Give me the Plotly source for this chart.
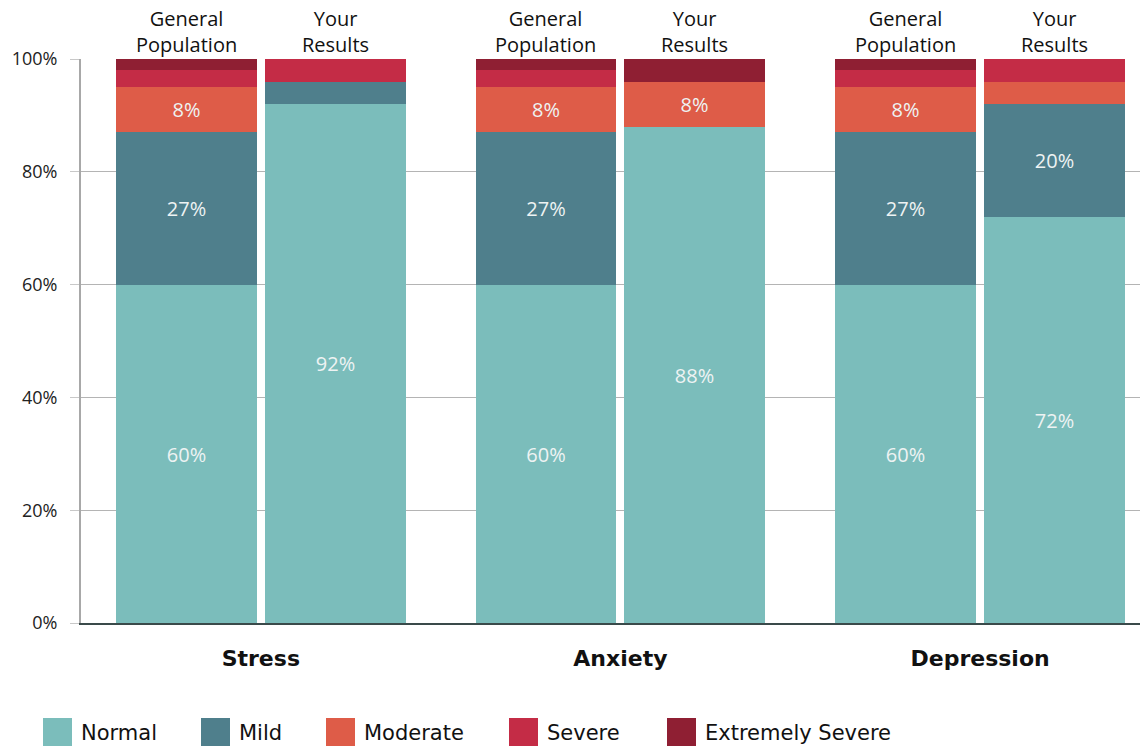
import plotly.graph_objects as go

# ---- data ----
groups = ["Stress", "Anxiety", "Depression"]
subgroups = ["General<br>Population", "Your<br>Results"]
levels = ["Normal", "Mild", "Moderate", "Severe", "Extremely Severe"]
colors = ["#7bbdbb", "#4f7f8c", "#de5c48", "#c42c46", "#8f1f33"]

# values per bar, order: Stress GP, Stress YR, Anxiety GP, Anxiety YR, Depression GP, Depression YR
normal = [60, 92, 60, 88, 60, 72]
mild = [27, 4, 27, 0, 27, 20]
moderate = [8, 0, 8, 8, 8, 4]
severe = [3, 4, 3, 0, 3, 4]
extremely_severe = [2, 0, 2, 4, 2, 0]
series = [normal, mild, moderate, severe, extremely_severe]

y_ticks = [0, 20, 40, 60, 80, 100]
label_min = 8  # segments at least this big get a value label

# ---- layout geometry (page body has an 8px margin) ----
BODY = 8
W, H = 1148 - BODY, 746 - BODY
ML, MT = 81 - BODY, 59 - BODY
MR = 0
MB = H - MT - 564
offset = 0.207
bar_w = 0.392
x_pos = []
for gi in range(len(groups)):
    for si in range(len(subgroups)):
        x_pos.append(gi + (-offset if si == 0 else offset))

fig = go.Figure()
for name, vals, col in zip(levels, series, colors):
    fig.add_trace(go.Bar(
        x=x_pos, y=vals, width=bar_w, name=name,
        marker=dict(color=col, line=dict(width=0)),
        text=[f"{v}%" if v >= label_min else "" for v in vals],
        textposition="inside", insidetextanchor="middle", textangle=0,
        textfont=dict(family="Open Sans", size=20, color="#eef3f3"),
        constraintext="none",
        hoverinfo="skip", showlegend=False,
    ))

# top sub-group labels
for i, xp in enumerate(x_pos):
    fig.add_annotation(
        x=xp, y=1, xref="x", yref="paper", yanchor="bottom", yshift=-1,
        text=subgroups[i % 2], showarrow=False,
        font=dict(family="Open Sans", size=20, color="#111111"),
    )

# manual legend (large squares), positions given in screen pixels
plot_w = W - ML - MR
plot_h = H - MT - MB
def px_x(px):
    return (px - BODY - ML) / plot_w
def px_y(py):
    return (H - MB - (py - BODY)) / plot_h

leg_left = [43, 201, 326, 509, 667]
sq = 29
sq_top = 718
for name, col, lx in zip(levels, colors, leg_left):
    fig.add_shape(type="rect", xref="paper", yref="paper",
                  x0=px_x(lx), x1=px_x(lx + sq), y0=px_y(sq_top + sq), y1=px_y(sq_top),
                  fillcolor=col, line=dict(width=0), layer="above")
    fig.add_annotation(x=px_x(lx + 36), y=px_y(sq_top + sq / 2 + 1), xref="paper", yref="paper",
                       xanchor="left", yanchor="middle", showarrow=False, text=name,
                       font=dict(family="DejaVu Sans", size=21, color="#111111"))

fig.update_layout(
    width=W, height=H,
    margin=dict(l=ML, r=MR, t=MT, b=MB, pad=0),
    barmode="stack", bargap=0,
    plot_bgcolor="white", paper_bgcolor="white",
    showlegend=False,
    xaxis=dict(
        range=[-0.5, 2.467], tickmode="array", tickvals=[0, 1, 2], ticktext=groups,
        tickfont=dict(family="DejaVu Sans", size=22, color="#111111", weight="bold"),
        showgrid=False, zeroline=False, showline=True, linecolor="#3a4a4a", linewidth=2,
        ticks="", ticklabelstandoff=15, fixedrange=True,
    ),
    yaxis=dict(
        range=[0, 100], tickmode="array", tickvals=y_ticks,
        ticktext=[f"{t}%" for t in y_ticks],
        tickfont=dict(family="Open Sans", size=18, color="#222222"),
        showgrid=True, gridcolor="#b4b4b4", gridwidth=1,
        zeroline=False, showline=True, linecolor="#a8a8a8", linewidth=2,
        ticks="outside", ticklen=9, tickcolor="#c8c8c8", tickwidth=1,
        ticklabelstandoff=9, fixedrange=True,
    ),
)

fig.write_html("out.html")
